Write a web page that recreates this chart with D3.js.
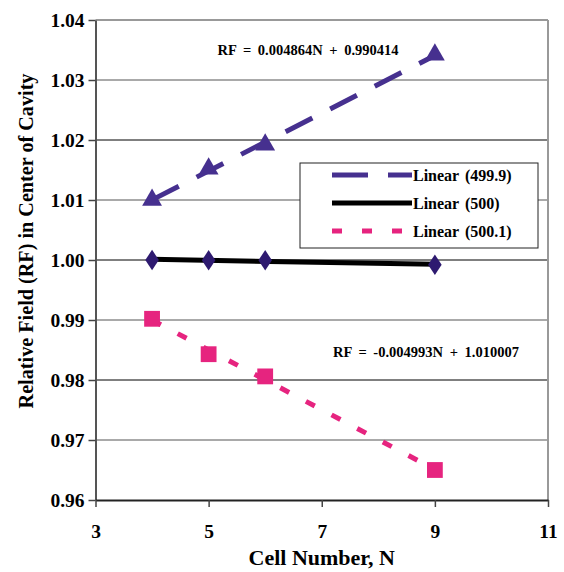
<!DOCTYPE html>
<html><head><meta charset="utf-8">
<script src="https://cdn.jsdelivr.net/npm/d3@7"></script>
<style>body{margin:0;background:#fff}text{font-family:"Liberation Serif","Times New Roman",serif;font-weight:bold}</style>
</head><body><svg id="c" width="564" height="572"></svg>
<script>
const cells = [4, 5, 6, 9];
const rf4999 = [1.0100, 1.0152, 1.0192, 1.0342];
const rf500 = [1.0000, 0.99995, 0.99995, 0.9992];
const rf5001 = [0.9902, 0.9843, 0.9806, 0.9650];
const xTicks = [3, 5, 7, 9, 11];
const yTicks = [0.96, 0.97, 0.98, 0.99, 1.00, 1.01, 1.02, 1.03, 1.04];
const legendLabels = ["Linear (499.9)", "Linear (500)", "Linear (500.1)"];
const equations = ["RF = 0.004864N + 0.990414", "RF = -0.004993N + 1.010007"];

const svg = d3.select("#c");
const x = d3.scaleLinear().domain([3, 11]).range([95.5, 548]);
const y = d3.scaleLinear().domain([0.96, 1.04]).range([500, 20]);

// grid
svg.append("g").selectAll("line").data(yTicks.slice(1, -1)).join("line")
  .attr("x1", x(3)).attr("x2", x(11)).attr("y1", d => y(d)).attr("y2", d => y(d))
  .attr("stroke", (d, i) => i % 2 ? "#000" : "#555").attr("stroke-width", 1);
// top & right border
svg.append("line").attr("x1", x(3)).attr("x2", x(11)).attr("y1", y(1.04)).attr("y2", y(1.04)).attr("stroke", "#999").attr("stroke-width", 2);
svg.append("line").attr("x1", x(11)).attr("x2", x(11)).attr("y1", y(1.04)).attr("y2", y(0.96)).attr("stroke", "#999").attr("stroke-width", 2);

// axes
const yAxis = svg.append("g").attr("transform", `translate(${x(3)},0)`)
  .call(d3.axisLeft(y).tickValues(yTicks).tickFormat(d3.format(".2f")).tickSize(7).tickSizeOuter(0));
const xAxis = svg.append("g").attr("transform", `translate(0,${y(0.96)})`)
  .call(d3.axisBottom(x).tickValues(xTicks).tickFormat(d3.format("d")).tickSize(7).tickSizeOuter(0));
yAxis.select(".domain").attr("stroke", "#555").attr("stroke-width", 2);
xAxis.select(".domain").attr("stroke", "#222").attr("stroke-width", 2);
[yAxis, xAxis].forEach(a => {
  a.selectAll(".tick line").attr("stroke", "#444").attr("stroke-width", 1.5);
  a.selectAll("text").attr("font-size", 19.5).attr("fill", "#000")
    .style("font-family", '"Liberation Serif",serif').style("font-weight", "bold");
});
yAxis.selectAll("text").attr("x", -11).attr("dy", "0.35em");
xAxis.selectAll("text").attr("y", 24).attr("dy", "0.71em");

// titles
svg.append("text").attr("x", x(7)).attr("y", 565).attr("text-anchor", "middle").attr("font-size", 22).text("Cell Number, N");
svg.append("text").attr("transform", `translate(33,241) rotate(-90)`).attr("text-anchor", "middle")
  .attr("font-size", 20.2).text("Relative Field (RF) in Center of Cavity");

// trendlines (least squares)
function fit(xs, ys) {
  const mx = d3.mean(xs), my = d3.mean(ys);
  const b = d3.sum(xs, (v, i) => (v - mx) * (ys[i] - my)) / d3.sum(xs, v => (v - mx) ** 2);
  return v => my + b * (v - mx);
}
const series = [
  {vals: rf4999, color: "#46308f", dash: "30,20", marker: "tri"},
  {vals: rf500, color: "#000", dash: null, marker: "dia"},
  {vals: rf5001, color: "#e6247f", dash: "10,19", marker: "sq"}
];
const xmin = d3.min(cells), xmax = d3.max(cells);
series.forEach(s => {
  const f = fit(cells, s.vals);
  const l = svg.append("line").attr("x1", x(xmin)).attr("y1", y(f(xmin))).attr("x2", x(xmax)).attr("y2", y(f(xmax)))
    .attr("stroke", s.color).attr("stroke-width", 5);
  if (s.dash) l.attr("stroke-dasharray", s.dash);
});
// markers
const sym = {tri: d3.symbolTriangle, dia: d3.symbolDiamond, sq: d3.symbolSquare};
const msize = {tri: 170, dia: 120, sq: 250};
const mcol = {tri: "#46308f", dia: "#2e1a70", sq: "#e6247f"};
series.forEach(s => {
  svg.append("g").selectAll("path").data(cells).join("path")
    .attr("transform", (d, i) => `translate(${x(d)},${y(s.vals[i])})` + (s.marker === "dia" ? " scale(1.15,1)" : ""))
    .attr("d", d3.symbol().type(sym[s.marker]).size(msize[s.marker]))
    .attr("fill", mcol[s.marker]);
});

// equations
svg.append("text").attr("x", 308).attr("y", 55).attr("text-anchor", "middle").attr("font-size", 14.5)
  .attr("word-spacing", 3).text(equations[0]);
svg.append("text").attr("x", 426).attr("y", 357).attr("text-anchor", "middle").attr("font-size", 14.5)
  .attr("word-spacing", 3).text(equations[1]);

// legend
const lg = svg.append("g");
lg.append("rect").attr("x", 300).attr("y", 163).attr("width", 238).attr("height", 85)
  .attr("fill", "#fff").attr("stroke", "#222").attr("stroke-width", 1);
legendLabels.forEach((t, i) => {
  const yy = 175 + i * 28;
  const s = series[i];
  const l = lg.append("line").attr("x1", 332).attr("x2", 412).attr("y1", yy).attr("y2", yy)
    .attr("stroke", s.color).attr("stroke-width", 5);
  if (s.dash) l.attr("stroke-dasharray", i === 0 ? "36,20" : "10,20");
  lg.append("text").attr("x", 413).attr("y", yy + 6).attr("font-size", 16).attr("word-spacing", 2).text(t);
});
</script></body></html>
